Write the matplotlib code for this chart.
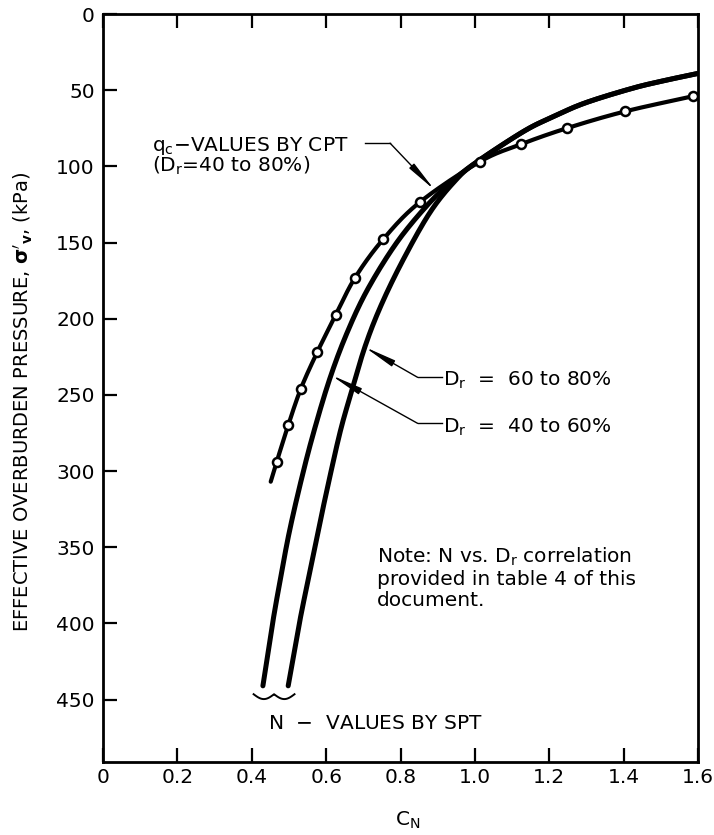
import numpy as np
import matplotlib
matplotlib.use("Agg")
import matplotlib.pyplot as plt

# ---------------- data ----------------
cpt_c = [0.467, 0.498, 0.532, 0.576, 0.626, 0.678, 0.753, 0.852, 1.013, 1.124, 1.247, 1.403, 1.586]
cpt_sigma = [294, 270, 246, 222, 197.5, 173, 148, 123.5, 97, 85.5, 75, 64, 54]
cpt_tail_c = [0.451]
cpt_tail_sigma = [307]

spt_40_60_c = [0.430, 0.456, 0.477, 0.501, 0.533, 0.566, 0.609, 0.655, 0.711, 0.79, 0.874, 0.938, 1.0,
               1.128, 1.205, 1.295, 1.42, 1.504, 1.6]
spt_40_60_sigma = [441, 400, 371, 340, 306, 275, 240, 210, 181, 150, 125, 110, 98,
                   77.5, 68, 58.5, 49, 44, 39]
spt_60_80_c = [0.498, 0.528, 0.552, 0.578, 0.608, 0.637, 0.662, 0.705, 0.75, 0.81, 0.88, 0.945, 1.0,
               1.128, 1.205, 1.295, 1.42, 1.504, 1.6]
spt_60_80_sigma = [441, 400, 371, 340, 306, 275, 253, 218, 190, 160, 130, 110, 98,
                   77.5, 68, 58.5, 49, 44, 39]

x_ticks = [0, 0.2, 0.4, 0.6, 0.8, 1.0, 1.2, 1.4, 1.6]
x_tick_labels = ["0", "0.2", "0.4", "0.6", "0.8", "1.0", "1.2", "1.4", "1.6"]
y_ticks = [0, 50, 100, 150, 200, 250, 300, 350, 400, 450]
y_tick_labels = [str(v) for v in y_ticks]


def smooth(xs, ys, n=24, sy=300.0):
    P = np.column_stack([np.asarray(xs, float), np.asarray(ys, float) / sy])
    P = np.vstack([2 * P[0] - P[1], P, 2 * P[-1] - P[-2]])
    out = []
    t = np.linspace(0, 1, n, endpoint=False)[:, None]
    for i in range(1, len(P) - 2):
        p0, p1, p2, p3 = P[i - 1], P[i], P[i + 1], P[i + 2]
        seg = 0.5 * ((2 * p1) + (-p0 + p2) * t + (2 * p0 - 5 * p1 + 4 * p2 - p3) * t ** 2
                     + (-p0 + 3 * p1 - 3 * p2 + p3) * t ** 3)
        out.append(seg)
    out.append(P[-2][None, :])
    out = np.vstack(out)
    return out[:, 0], out[:, 1] * sy


plt.rcParams['font.family'] = ['DejaVu Sans']
plt.rcParams['mathtext.fontset'] = 'dejavusans'

fig = plt.figure(figsize=(7.14, 8.35), dpi=100)
ax = fig.add_axes([103 / 714, 1 - 762 / 835, (698 - 103) / 714, (762 - 14) / 835])

ax.set_xlim(0, 1.6)
ax.set_ylim(491, 0)

# SPT curves
for cs, ss in [(spt_40_60_c, spt_40_60_sigma), (spt_60_80_c, spt_60_80_sigma)]:
    xx, yy = smooth(cs, ss)
    ax.plot(xx, yy, color='black', lw=3.6, solid_capstyle='round', zorder=3)

# CPT curve with markers
xx, yy = smooth(cpt_tail_c + cpt_c, cpt_tail_sigma + cpt_sigma)
ax.plot(xx, yy, color='black', lw=3.0, solid_capstyle='round', zorder=4)
ax.plot(cpt_c, cpt_sigma, linestyle='none', marker='o', markersize=6.5,
        markerfacecolor='white', markeredgecolor='black', markeredgewidth=1.8, zorder=5)

# axes styling
for s in ax.spines.values():
    s.set_linewidth(2.0)
ax.set_xticks(x_ticks)
ax.set_xticklabels(x_tick_labels)
ax.set_yticks(y_ticks)
ax.set_yticklabels(y_tick_labels)
ax.tick_params(axis='both', direction='in', length=10, width=1.6, labelsize=14.5, pad=6)
ax.tick_params(axis='x', top=True, pad=4)
ax.tick_params(axis='y', right=False, pad=6)

fig.text(408 / 714, 1 - 820 / 835, r"C$_\mathregular{N}$", ha='center', va='center', fontsize=14.5)
fig.text(23 / 714, 1 - 402 / 835,
         r"EFFECTIVE OVERBURDEN PRESSURE, $\mathbf{\sigma'_v}$, (kPa)",
         rotation=90, ha='center', va='center', fontsize=14)

# annotations
fs = 14.5
ax.text(0.132, 90, r"q$_\mathregular{c}$$-$VALUES BY CPT", fontsize=14.5, va='baseline', ha='left')
ax.text(0.132, 103.8, r"(D$_\mathregular{r}$=40 to 80%)", fontsize=14.5, va='baseline', ha='left')
ax.text(0.914, 244.2, r"D$_\mathregular{r}$  =  60 to 80%", fontsize=fs, va='baseline', ha='left')
ax.text(0.914, 274.8, r"D$_\mathregular{r}$  =  40 to 60%", fontsize=fs, va='baseline', ha='left')
ax.text(0.444, 469.3, r"N  $-$  VALUES BY SPT", fontsize=fs, va='baseline', ha='left')
ax.text(0.737, 360, r"Note: N vs. D$_\mathregular{r}$ correlation", fontsize=fs, va='baseline', ha='left')
ax.text(0.737, 374.5, "provided in table 4 of this", fontsize=fs, va='baseline', ha='left')
ax.text(0.737, 388.5, "document.", fontsize=fs, va='baseline', ha='left')

arrow_kw = dict(arrowstyle="-|>,head_length=1.9,head_width=0.2", lw=1.0, color='black',
                shrinkA=0, shrinkB=0)
# CPT leader
ax.plot([0.705, 0.772], [84.8, 84.8], color='black', lw=1.0)
ax.annotate("", xy=(0.892, 115.6), xytext=(0.772, 84.8), arrowprops=arrow_kw)
# Dr 60-80
ax.plot([0.846, 0.912], [238.5, 238.5], color='black', lw=1.0)
ax.annotate("", xy=(0.703, 218.5), xytext=(0.846, 238.5), arrowprops=arrow_kw)
# Dr 40-60
ax.plot([0.846, 0.912], [268.7, 268.7], color='black', lw=1.0)
ax.annotate("", xy=(0.613, 237), xytext=(0.846, 268.7), arrowprops=arrow_kw)

# brace under the SPT curves
t = np.linspace(0, 1, 40)
bx_left = 0.405 + 0.055 * t
bx_right = 0.46 + 0.055 * t
by = 446.5 + 3.2 * np.sin(np.pi * t)
ax.plot(np.concatenate([bx_left, bx_right]), np.concatenate([by, by]), color='black', lw=1.4)

fig.savefig("out.png", dpi=100)
